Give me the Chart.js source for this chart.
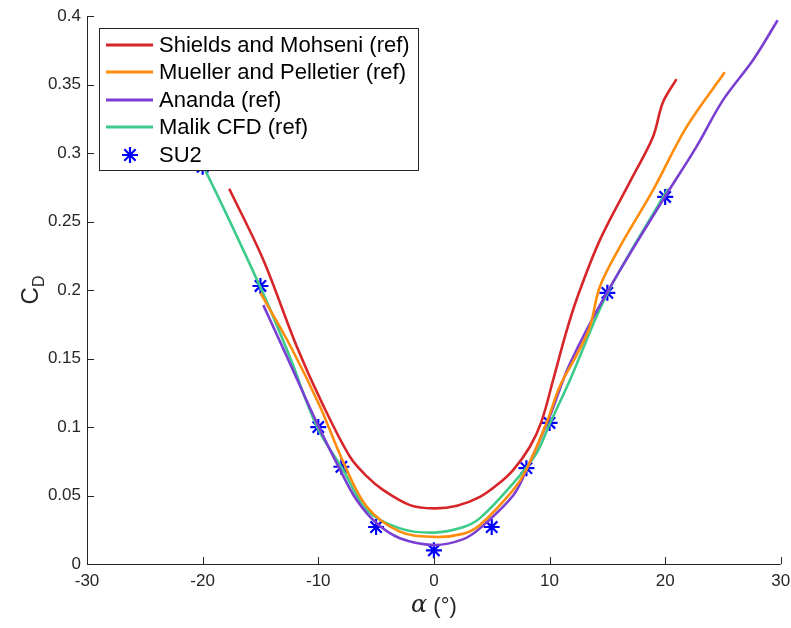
<!DOCTYPE html>
<html>
<head>
<meta charset="utf-8">
<script src="https://cdn.jsdelivr.net/npm/chart.js@4.4.1/dist/chart.umd.min.js"></script>
<style>
  html, body { margin: 0; padding: 0; background: #fff; }
</style>
</head>
<body>
<canvas id="cdChart" width="791" height="628"></canvas>
<script>
// Drag coefficient vs angle of attack

const xTicks = [-30, -20, -10, 0, 10, 20, 30];
const yTicks = [0, 0.05, 0.1, 0.15, 0.2, 0.25, 0.3, 0.35, 0.4];

const shieldsAlpha = [-17.7, -14.75, -11.87, -9.7, -7.26, -5.8, -4.38, -2.07, 0, 2, 3.98, 5.5, 6.85, 8.3, 9.3, 10.3, 11.4, 12.33, 14.35, 17.2, 18.95, 19.8, 20.98];
const shieldsCd    = [0.274, 0.222, 0.159, 0.118, 0.0783, 0.064, 0.054, 0.043, 0.0406, 0.0425, 0.049, 0.058, 0.0686, 0.0856, 0.104, 0.134, 0.168, 0.193, 0.2365, 0.283, 0.312, 0.337, 0.354];

const muellerAlpha = [-15, -12.4, -9.85, -7.84, -5.8, -2.94, 0, 2.5, 3.98, 6.85, 8.0, 9.74, 10.9, 12.3, 13.48, 14.35, 16.08, 18.95, 21.84, 25.15];
const muellerCd    = [0.198, 0.159, 0.115, 0.0745, 0.0418, 0.0236, 0.0198, 0.022, 0.0285, 0.054, 0.069, 0.103, 0.13, 0.152, 0.173, 0.2024, 0.2316, 0.273, 0.319, 0.359];

const anandaAlpha = [-14.75, -12.45, -10.1, -8.1, -6.68, -4.95, -2.94, 0, 2.5, 3.98, 6.85, 8.0, 10.0, 11.75, 14.93, 19.8, 22.7, 25.0, 27.6, 29.73];
const anandaCd    = [0.189, 0.1465, 0.1027, 0.0686, 0.0467, 0.0297, 0.0188, 0.0139, 0.018, 0.026, 0.05, 0.0686, 0.1075, 0.146, 0.1976, 0.2657, 0.3046, 0.3387, 0.368, 0.397];

const malikAlpha = [-21, -19.8, -15, -12.5, -10.1, -7.84, -5.8, -2.94, 0, 2.5, 3.98, 6.85, 8.87, 10.0, 11.75, 15.0, 20.25];
const malikCd    = [0.305, 0.288, 0.202, 0.152, 0.100, 0.0686, 0.0394, 0.026, 0.0229, 0.0268, 0.0335, 0.0589, 0.0808, 0.102, 0.134, 0.1976, 0.274];

const su2Alpha = [-20, -15, -10, -8, -5, 0, 5, 8, 10, 15, 20];
const su2Cd    = [0.29, 0.203, 0.1, 0.071, 0.027, 0.01, 0.027, 0.07, 0.103, 0.198, 0.268];

const seriesNames = ['Shields and Mohseni (ref)', 'Mueller and Pelletier (ref)', 'Ananda (ref)', 'Malik CFD (ref)', 'SU2'];
const seriesColors = ['#D7262A', '#FF8C0A', '#7A3FD2', '#3DCB8C', '#0000FF'];

const toPoints = (xs, ys) => xs.map((x, i) => ({ x: x, y: ys[i] }));

const FONT = '"Liberation Sans", Arial, Helvetica, sans-serif';
const AXIS_COLOR = '#262626';

function lineSet(i, xs, ys) {
  return {
    label: seriesNames[i],
    data: toPoints(xs, ys),
    showLine: true,
    borderColor: seriesColors[i],
    backgroundColor: seriesColors[i],
    borderWidth: 2.6,
    pointRadius: 0,
    tension: 0.35
  };
}

// axis lines, inward ticks, axis titles, boxed legend
const matlabLook = {
  id: 'matlabLook',
  afterDatasetsDraw(chart) {
    const ctx = chart.ctx;
    const area = chart.chartArea;
    const xs = chart.scales.x;
    const ys = chart.scales.y;
    const tickLen = 7;

    ctx.save();
    ctx.strokeStyle = AXIS_COLOR;
    ctx.lineWidth = 1;
    ctx.beginPath();
    ctx.moveTo(area.left + 0.5, area.top);
    ctx.lineTo(area.left + 0.5, area.bottom + 0.5);
    ctx.lineTo(area.right, area.bottom + 0.5);
    xTicks.forEach(v => {
      const px = Math.round(xs.getPixelForValue(v)) + 0.5;
      ctx.moveTo(px, area.bottom);
      ctx.lineTo(px, area.bottom - tickLen);
    });
    yTicks.forEach(v => {
      const py = Math.round(ys.getPixelForValue(v)) + 0.5;
      ctx.moveTo(area.left, py);
      ctx.lineTo(area.left + tickLen, py);
    });
    ctx.stroke();

    // x title: alpha (deg)
    ctx.fillStyle = AXIS_COLOR;
    ctx.textBaseline = 'middle';
    const cx = (area.left + area.right) / 2;
    const ty = 607;
    const greek = 'italic 24px "DejaVu Serif", "Liberation Serif", serif';
    ctx.font = greek;
    const aW = ctx.measureText('α').width;
    ctx.font = '22px ' + FONT;
    const rest = ' (°)';
    const rW = ctx.measureText(rest).width;
    const sx = cx - (aW + rW) / 2;
    ctx.textAlign = 'left';
    ctx.font = greek;
    ctx.fillText('α', sx, ty - 1);
    ctx.font = '22px ' + FONT;
    ctx.fillText(rest, sx + aW, ty);

    // y title: C_D
    ctx.save();
    ctx.translate(31, 290);
    ctx.rotate(-Math.PI / 2);
    ctx.font = '24px ' + FONT;
    const cW = ctx.measureText('C').width;
    ctx.font = '16px ' + FONT;
    const dW = ctx.measureText('D').width;
    ctx.textAlign = 'left';
    ctx.font = '24px ' + FONT;
    ctx.fillText('C', -(cW + dW) / 2, 0);
    ctx.font = '16px ' + FONT;
    ctx.fillText('D', -(cW + dW) / 2 + cW, 9);
    ctx.restore();

    // legend
    const box = { left: 99.5, top: 28.5, width: 319, height: 142 };
    ctx.fillStyle = '#ffffff';
    ctx.fillRect(box.left, box.top, box.width, box.height);
    ctx.strokeStyle = AXIS_COLOR;
    ctx.lineWidth = 1;
    ctx.strokeRect(box.left, box.top, box.width, box.height);
    const rowY = [45, 72, 100, 127, 155];
    ctx.font = '22px ' + FONT;
    ctx.textAlign = 'left';
    ctx.textBaseline = 'middle';
    seriesNames.forEach((name, i) => {
      const y = rowY[i];
      ctx.strokeStyle = seriesColors[i];
      ctx.fillStyle = seriesColors[i];
      if (i < 4) {
        ctx.lineWidth = 3;
        ctx.beginPath();
        ctx.moveTo(106, y);
        ctx.lineTo(153, y);
        ctx.stroke();
      } else {
        ctx.lineWidth = 2.2;
        Chart.helpers.drawPoint(ctx, { pointStyle: 'star', radius: 8, rotation: 0, borderWidth: 2.2 }, 130, y);
      }
      ctx.fillStyle = '#000000';
      ctx.fillText(name, 159, y + 1);
    });
    ctx.restore();
  }
};

new Chart(document.getElementById('cdChart'), {
  type: 'scatter',
  data: {
    datasets: [
      lineSet(0, shieldsAlpha, shieldsCd),
      lineSet(1, muellerAlpha, muellerCd),
      lineSet(2, anandaAlpha, anandaCd),
      lineSet(3, malikAlpha, malikCd),
      {
        label: seriesNames[4],
        data: toPoints(su2Alpha, su2Cd),
        showLine: false,
        pointStyle: 'star',
        pointRadius: 8,
        pointBorderWidth: 2.2,
        borderColor: seriesColors[4],
        backgroundColor: seriesColors[4]
      }
    ]
  },
  options: {
    responsive: false,
    devicePixelRatio: 1,
    animation: false,
    layout: { padding: { left: 0, top: 16, right: 10, bottom: 0 } },
    plugins: {
      legend: { display: false },
      tooltip: { enabled: false }
    },
    scales: {
      x: {
        type: 'linear',
        min: -30,
        max: 30,
        afterBuildTicks: s => { s.ticks = xTicks.map(v => ({ value: v })); },
        afterFit: s => { s.height = 64; s.paddingLeft = 0; s.paddingRight = 0; },
        grid: { display: false, drawTicks: false },
        border: { display: false },
        ticks: {
          padding: 7,
          color: AXIS_COLOR,
          font: { family: FONT, size: 17 },
          maxRotation: 0,
          callback: v => String(v)
        }
      },
      y: {
        type: 'linear',
        min: 0,
        max: 0.4,
        afterBuildTicks: s => { s.ticks = yTicks.map(v => ({ value: v })); },
        afterFit: s => { s.width = 87; },
        grid: { display: false, drawTicks: false },
        border: { display: false },
        ticks: {
          padding: 6,
          color: AXIS_COLOR,
          font: { family: FONT, size: 17 },
          callback: v => String(+v.toFixed(2))
        }
      }
    }
  },
  plugins: [matlabLook]
});
</script>
</body>
</html>
